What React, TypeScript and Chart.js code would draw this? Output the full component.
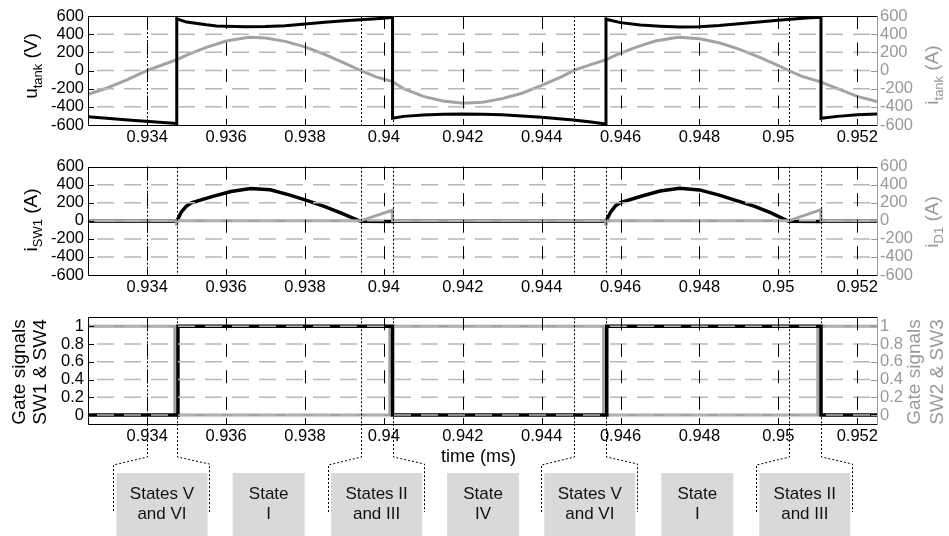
import React, { useEffect, useRef } from "react";
import { Chart, registerables } from "chart.js";

Chart.register(...registerables);

// ---------------- data ----------------
const X_MIN = 0.9325;
const X_MAX = 0.9525;
const xTickValues = [0.934, 0.936, 0.938, 0.94, 0.942, 0.944, 0.946, 0.948, 0.95, 0.952];
const currentTicks = [-600, -400, -200, 0, 200, 400, 600];
const gateTicks = [0, 0.2, 0.4, 0.6, 0.8, 1];

const stateBoundaries = [0.934, 0.93475, 0.93941, 0.94022, 0.94481, 0.94563, 0.95026, 0.95108];
const stateStarts = [0.934, 0.93475, 0.93941, 0.94022, 0.94481, 0.94563, 0.95026];
const stateEnds = [0.93475, 0.93941, 0.94022, 0.94481, 0.94563, 0.95026, 0.95108];
const stateLine1 = ["States V", "State", "States II", "State", "States V", "State", "States II"];
const stateLine2 = ["and VI", "I", "and III", "IV", "and VI", "I", "and III"];
const stateBracketed = [true, false, true, false, true, false, true];

// u_tank (V)
const uTank: [number, number][] = [
  [0.9325, -510], [0.9336, -547], [0.93475, -583],
  [0.93475, 570], [0.935, 533], [0.9355, 503], [0.93576, 490], [0.9365, 482], [0.937, 485],
  [0.9375, 494], [0.938, 512], [0.9385, 530], [0.939, 548], [0.9394, 558], [0.94, 575], [0.94022, 586],
  [0.94022, -526], [0.9405, -505], [0.941, -490], [0.9415, -482], [0.942, -479], [0.9425, -481],
  [0.943, -488], [0.944, -515], [0.9448, -545], [0.9452, -565], [0.94563, -589],
  [0.94563, 565], [0.946, 527], [0.9465, 500], [0.947, 488], [0.9475, 480], [0.948, 483],
  [0.9485, 495], [0.949, 515], [0.9495, 535], [0.95, 552], [0.9503, 565], [0.9508, 580], [0.95108, 586],
  [0.95108, -526], [0.9515, -505], [0.952, -488], [0.9525, -479],
];

// i_tank (A)
const iTank: [number, number][] = [
  [0.9325, -262], [0.933, -190], [0.9335, -100], [0.934, 0], [0.9345, 80], [0.93475, 118],
  [0.935, 170], [0.9355, 255], [0.936, 325], [0.9365, 360], [0.93662, 365], [0.937, 357],
  [0.9375, 321], [0.938, 260], [0.9385, 178], [0.939, 82], [0.93941, 0], [0.9398, -70],
  [0.94022, -123], [0.9405, -200], [0.941, -285], [0.9415, -335], [0.942, -361], [0.9425, -350],
  [0.943, -310], [0.9435, -250], [0.944, -165], [0.9445, -70], [0.94481, 0], [0.9452, 60],
  [0.94563, 118], [0.94588, 170], [0.94638, 255], [0.94688, 325], [0.94738, 360], [0.94751, 365],
  [0.948, 350], [0.9485, 305], [0.949, 235], [0.9495, 150], [0.95, 55], [0.95026, 0],
  [0.9506, -65], [0.95105, -123], [0.9515, -200], [0.952, -285], [0.9525, -343],
];

// i_SW1 (A)
const iSW1: [number, number][] = [
  [0.9325, -5], [0.93475, -5], [0.93487, 100], [0.93499, 160], [0.93512, 200], [0.93562, 265],
  [0.93612, 325], [0.93662, 358], [0.93712, 345], [0.93762, 285], [0.93812, 215], [0.93852, 155],
  [0.93892, 85], [0.93941, -5], [0.94022, -8], [0.94022, -5], [0.94563, -5], [0.94575, 100],
  [0.94587, 166], [0.946, 203], [0.9465, 270], [0.947, 330], [0.9475, 362], [0.948, 343],
  [0.9485, 285], [0.949, 215], [0.9494, 160], [0.9498, 90], [0.95026, -5], [0.95108, -8],
  [0.95108, -5], [0.9525, -5],
];

// i_D1 (A)
const iD1: [number, number][] = [
  [0.9325, 0], [0.93474, 0], [0.93475, -55], [0.93476, 0], [0.93941, 0], [0.94022, 118],
  [0.94022, 0], [0.94562, 0], [0.94563, -55], [0.94564, 0], [0.95026, 0], [0.95108, 125],
  [0.95108, 0], [0.9525, 0],
];

// gate signals
const gateSW14: [number, number][] = [
  [0.9325, 0], [0.93478, 0], [0.93478, 1], [0.94022, 1], [0.94022, 0], [0.94565, 0],
  [0.94565, 1], [0.95108, 1], [0.95108, 0], [0.9525, 0],
];
const gateSW23: [number, number][] = [
  [0.9325, 1], [0.9347, 1], [0.9347, 0], [0.94015, 0], [0.94015, 1], [0.94557, 1],
  [0.94557, 0], [0.951, 0], [0.951, 1], [0.9525, 1],
];

// ---------------- styling ----------------
const FONT = "'Liberation Sans', Arial, Helvetica, sans-serif";
const BLACK = "#000000";
const GRAY = "#a3a3a3";
const GRAY_TEXT = "#999999";
const GRID = "#b8b8b8";
const BOX = "#d9d9d9";
const W = 949;
const LEFT_W = 88;
const RIGHT_W = 72;

type Title = { text: string; x: number; cy: number };

function parseTitle(t: string) {
  const parts: { s: string; sub: boolean }[] = [];
  const re = /_\{([^}]*)\}/g;
  let last = 0;
  let m: RegExpExecArray | null;
  while ((m = re.exec(t))) {
    if (m.index > last) parts.push({ s: t.slice(last, m.index), sub: false });
    parts.push({ s: m[1], sub: true });
    last = m.index + m[0].length;
  }
  if (last < t.length) parts.push({ s: t.slice(last), sub: false });
  return parts;
}

function drawRotatedTitle(ctx: CanvasRenderingContext2D, t: Title, color: string) {
  const main = 19;
  const sub = 13;
  const parts = parseTitle(t.text);
  let total = 0;
  const widths = parts.map((p) => {
    ctx.font = `${p.sub ? sub : main}px ${FONT}`;
    const w = ctx.measureText(p.s).width;
    total += w;
    return w;
  });
  ctx.save();
  ctx.translate(t.x, t.cy);
  ctx.rotate(-Math.PI / 2);
  ctx.fillStyle = color;
  ctx.textAlign = "left";
  ctx.textBaseline = "alphabetic";
  let x = -total / 2;
  parts.forEach((p, i) => {
    ctx.font = `${p.sub ? sub : main}px ${FONT}`;
    ctx.fillText(p.s, x, p.sub ? 5 : 0);
    x += widths[i];
  });
  ctx.restore();
}

const decorPlugin = {
  id: "decor",
  afterDatasetsDraw(chart: any, _args: any, opts: any) {
    const { ctx, chartArea: a } = chart;
    const xs = chart.scales.x;
    const ys = chart.scales.y;
    ctx.save();
    // horizontal grid (gray dashed)
    ctx.lineWidth = 1.5;
    ctx.strokeStyle = GRID;
    ctx.setLineDash([17, 10]);
    ctx.lineDashOffset = 18;
    for (const v of opts.yTicks as number[]) {
      const py = ys.getPixelForValue(v);
      if (py < a.top + 1 || py > a.bottom - 1) continue;
      ctx.beginPath();
      ctx.moveTo(a.left, py);
      ctx.lineTo(a.right, py);
      ctx.stroke();
    }
    // vertical grid (black dashed)
    ctx.lineWidth = 1;
    ctx.strokeStyle = BLACK;
    ctx.setLineDash([13, 13.5]);
    ctx.lineDashOffset = 0;
    for (const v of xTickValues) {
      const px = Math.round(xs.getPixelForValue(v)) + 0.5;
      ctx.beginPath();
      ctx.moveTo(px, a.top);
      ctx.lineTo(px, a.bottom);
      ctx.stroke();
    }
    // state boundaries (dotted)
    ctx.setLineDash([2, 2]);
    for (const t of stateBoundaries) {
      const px = Math.round(xs.getPixelForValue(t)) + 0.5;
      ctx.beginPath();
      ctx.moveTo(px, a.top);
      ctx.lineTo(px, a.bottom);
      ctx.stroke();
    }
    ctx.setLineDash([]);
    // tick marks
    const tl = 6;
    ctx.strokeStyle = BLACK;
    for (const v of xTickValues) {
      const px = Math.round(xs.getPixelForValue(v)) + 0.5;
      ctx.beginPath();
      ctx.moveTo(px, a.top);
      ctx.lineTo(px, a.top + tl);
      ctx.moveTo(px, a.bottom);
      ctx.lineTo(px, a.bottom - tl);
      ctx.stroke();
    }
    for (const v of opts.yTicks as number[]) {
      const py = Math.round(ys.getPixelForValue(v)) + 0.5;
      ctx.strokeStyle = BLACK;
      ctx.beginPath();
      ctx.moveTo(a.left, py);
      ctx.lineTo(a.left + tl, py);
      ctx.stroke();
      ctx.strokeStyle = GRAY_TEXT;
      ctx.beginPath();
      ctx.moveTo(a.right, py);
      ctx.lineTo(a.right - tl, py);
      ctx.stroke();
    }
    // box
    const L = Math.round(a.left) + 0.5;
    const R = Math.round(a.right) + 0.5;
    const T = Math.round(a.top) + 0.5;
    const B = Math.round(a.bottom) + 0.5;
    ctx.strokeStyle = BLACK;
    ctx.beginPath();
    ctx.moveTo(R, T);
    ctx.lineTo(L, T);
    ctx.lineTo(L, B);
    ctx.lineTo(R, B);
    ctx.stroke();
    ctx.strokeStyle = GRAY_TEXT;
    ctx.beginPath();
    ctx.moveTo(R, T);
    ctx.lineTo(R, B);
    ctx.stroke();
    ctx.restore();
  },
  afterDraw(chart: any, _args: any, opts: any) {
    const { ctx, chartArea: a } = chart;
    const xs = chart.scales.x;
    ctx.save();
    for (const t of opts.leftTitles as Title[]) drawRotatedTitle(ctx, t, BLACK);
    for (const t of opts.rightTitles as Title[]) drawRotatedTitle(ctx, t, GRAY_TEXT);

    if (opts.callouts) {
      const yA = a.bottom;
      ctx.fillStyle = BLACK;
      ctx.font = `18px ${FONT}`;
      ctx.textAlign = "center";
      ctx.textBaseline = "middle";
      ctx.fillText("time (ms)", (a.left + a.right) / 2 - 4, yA + 33);

      for (let i = 0; i < stateStarts.length; i++) {
        const cx = xs.getPixelForValue((stateStarts[i] + stateEnds[i]) / 2);
        const w = stateBracketed[i] ? 91 : 72;
        const bl = cx - w / 2;
        const br = cx + w / 2;
        ctx.fillStyle = BOX;
        ctx.fillRect(bl, yA + 49, w, chart.height - (yA + 49));
        ctx.fillStyle = "#111";
        ctx.font = `17px ${FONT}`;
        ctx.fillText(stateLine1[i], cx, yA + 70);
        ctx.fillText(stateLine2[i], cx, yA + 90);
        if (stateBracketed[i]) {
          const x0 = Math.round(xs.getPixelForValue(stateStarts[i])) + 0.5;
          const x1 = Math.round(xs.getPixelForValue(stateEnds[i])) + 0.5;
          ctx.strokeStyle = BLACK;
          ctx.lineWidth = 1;
          ctx.setLineDash([2, 2]);
          ctx.beginPath();
          ctx.moveTo(x0, yA);
          ctx.lineTo(x0, yA + 33);
          ctx.lineTo(Math.round(bl) - 2.5, yA + 41);
          ctx.lineTo(Math.round(bl) - 2.5, yA + 88);
          ctx.moveTo(x1, yA);
          ctx.lineTo(x1, yA + 33);
          ctx.lineTo(Math.round(br) + 2.5, yA + 40);
          ctx.lineTo(Math.round(br) + 2.5, yA + 88);
          ctx.stroke();
          ctx.setLineDash([]);
        }
      }
    }
    ctx.restore();
  },
};

type Series = { pts: [number, number][]; color: string; width: number };
type Panel = {
  top: number;
  h: number;
  padTop: number;
  xHeight: number;
  yMin: number;
  yMax: number;
  yTicks: number[];
  series: Series[];
  leftTitles: Title[];
  rightTitles: Title[];
  callouts: boolean;
};

const fmtX = (v: any) => String(parseFloat(Number(v).toFixed(3)));
const fmtY = (v: any) => String(parseFloat(Number(v).toFixed(1)));

const panels: Panel[] = [
  {
    top: 0,
    h: 150,
    padTop: 16,
    xHeight: 25,
    yMin: -600,
    yMax: 600,
    yTicks: currentTicks,
    series: [
      { pts: uTank, color: BLACK, width: 3 },
      { pts: iTank, color: GRAY, width: 3 },
    ],
    leftTitles: [{ text: "u_{tank} (V)", x: 37, cy: 66 }],
    rightTitles: [{ text: "i_{tank} (A)", x: 938, cy: 75 }],
    callouts: false,
  },
  {
    top: 150,
    h: 150,
    padTop: 16.7,
    xHeight: 25,
    yMin: -600,
    yMax: 600,
    yTicks: currentTicks,
    series: [
      { pts: iD1, color: GRAY, width: 3 },
      { pts: iSW1, color: BLACK, width: 3.5 },
    ],
    leftTitles: [{ text: "i_{SW1} (A)", x: 37, cy: 70 }],
    rightTitles: [{ text: "i_{D1} (A)", x: 938, cy: 72 }],
    callouts: false,
  },
  {
    top: 300,
    h: 236,
    padTop: 17.3,
    xHeight: 112,
    yMin: -0.1,
    yMax: 1.1,
    yTicks: gateTicks,
    series: [
      { pts: gateSW14, color: BLACK, width: 3.5 },
      { pts: gateSW23, color: GRAY, width: 3 },
    ],
    leftTitles: [
      { text: "Gate signals", x: 25, cy: 72 },
      { text: "SW1 & SW4", x: 46, cy: 72 },
    ],
    rightTitles: [
      { text: "Gate signals", x: 920, cy: 72 },
      { text: "SW2 & SW3", x: 943, cy: 72 },
    ],
    callouts: true,
  },
];

function makeConfig(p: Panel): any {
  const yTicksOpts = (color: string, padding: number) => ({
    autoSkip: false,
    padding,
    color,
    font: { family: FONT, size: 16.5 },
    callback: fmtY,
  });
  return {
    type: "line",
    data: {
      datasets: p.series.map((s) => ({
        data: s.pts.map(([x, y]) => ({ x, y })),
        borderColor: s.color,
        backgroundColor: s.color,
        borderWidth: s.width,
        pointRadius: 0,
        tension: 0,
        fill: false,
        yAxisID: "y",
        borderJoinStyle: "miter",
      })),
    },
    options: {
      animation: false,
      responsive: false,
      devicePixelRatio: 1,
      layout: { padding: { top: p.padTop, left: 0, right: 0, bottom: 0 } },
      plugins: {
        legend: { display: false },
        tooltip: { enabled: false },
        decor: {
          yTicks: p.yTicks,
          leftTitles: p.leftTitles,
          rightTitles: p.rightTitles,
          callouts: p.callouts,
        },
      },
      scales: {
        x: {
          type: "linear",
          min: X_MIN,
          max: X_MAX,
          afterBuildTicks: (s: any) => {
            s.ticks = xTickValues.map((value) => ({ value }));
          },
          afterFit: (s: any) => {
            s.height = p.xHeight;
          },
          ticks: {
            autoSkip: false,
            maxRotation: 0,
            minRotation: 0,
            padding: 3,
            color: BLACK,
            font: { family: FONT, size: 16.5 },
            callback: fmtX,
          },
          grid: { display: false, drawTicks: false },
          border: { display: false },
        },
        y: {
          type: "linear",
          position: "left",
          min: p.yMin,
          max: p.yMax,
          afterBuildTicks: (s: any) => {
            s.ticks = p.yTicks.map((value) => ({ value }));
          },
          afterFit: (s: any) => {
            s.width = LEFT_W;
          },
          ticks: yTicksOpts(BLACK, 4),
          grid: { display: false, drawTicks: false },
          border: { display: false },
        },
        y2: {
          type: "linear",
          position: "right",
          display: true,
          min: p.yMin,
          max: p.yMax,
          afterBuildTicks: (s: any) => {
            s.ticks = p.yTicks.map((value) => ({ value }));
          },
          afterFit: (s: any) => {
            s.width = RIGHT_W;
          },
          ticks: yTicksOpts(GRAY_TEXT, 3),
          grid: { display: false, drawTicks: false },
          border: { display: false },
        },
      },
    },
    plugins: [decorPlugin],
  };
}

export default function App() {
  const r0 = useRef<HTMLCanvasElement>(null);
  const r1 = useRef<HTMLCanvasElement>(null);
  const r2 = useRef<HTMLCanvasElement>(null);
  const refs = [r0, r1, r2];

  useEffect(() => {
    const charts = panels.map((p, i) => new Chart(refs[i].current as HTMLCanvasElement, makeConfig(p)));
    return () => charts.forEach((c) => c.destroy());
  }, []);

  return (
    <div style={{ position: "absolute", left: 0, top: 0, width: W, height: 536, background: "#fff", overflow: "hidden" }}>
      {panels.map((p, i) => (
        <canvas
          key={i}
          ref={refs[i]}
          width={W}
          height={p.h}
          style={{ position: "absolute", left: 0, top: p.top, width: W, height: p.h, display: "block" }}
        />
      ))}
    </div>
  );
}
